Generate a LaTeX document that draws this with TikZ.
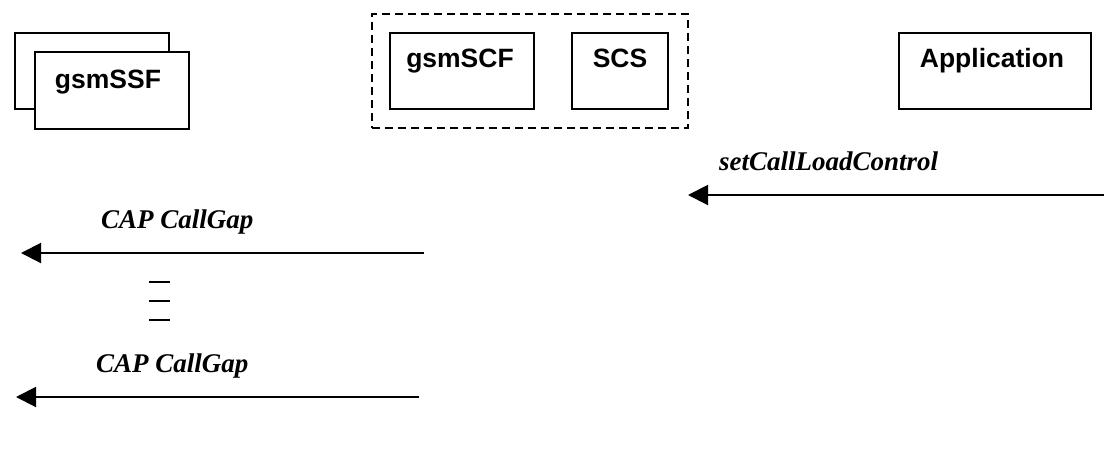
\documentclass[tikz,border=0pt]{standalone}
\usepackage{fontspec}
\setmainfont{Liberation Serif}
\newfontfamily\arialfont{Liberation Sans}
\usetikzlibrary{arrows.meta}
\tikzset{
  box/.style={draw=black, line width=2pt, fill=white, inner sep=0pt},
  boxlbl/.style={font=\arialfont\bfseries\fontsize{26.5}{30}\selectfont, inner sep=0pt, anchor=base},
  msglbl/.style={font=\bfseries\itshape\fontsize{27}{30}\selectfont, inner sep=0pt, anchor=base west},
  msg/.style={line width=2pt, -{Triangle[length=20pt,width=20pt]}},
  grp/.style={draw=black, line width=2pt, dash pattern=on 8pt off 5pt},
  gapmark/.style={line width=2pt}
}
\begin{document}
\begin{tikzpicture}[x=1pt,y=-1pt]
\useasboundingbox (0,0) rectangle (1104,475);
% gsmSSF stacked boxes
\node[box, minimum width=154pt, minimum height=76pt] (ssfback) at (92,71) {};
\node[box, minimum width=154pt, minimum height=77pt] (ssf) at (112,90.5) {};
\node[boxlbl] (ssflbl) at (108,88) {gsmSSF};
% dashed group
\node[grp, minimum width=316pt, minimum height=114pt, inner sep=0pt] (grp) at (530,71) {};
\node[box, minimum width=144pt, minimum height=76pt] (scf) at (462,71) {};
\node[boxlbl] (scflbl) at (460,67) {gsmSCF};
\node[box, minimum width=96pt, minimum height=76pt] (scs) at (620,71) {};
\node[boxlbl] (scslbl) at (620,67) {SCS};
% Application
\node[box, minimum width=192pt, minimum height=76pt] (app) at (995,71) {};
\node[boxlbl] (applbl) at (992,67) {Application};
% messages
\coordinate (m1s) at (1104,195);
\coordinate (m1e) at (688,195);
\draw[msg] (m1s) -- (m1e);
\node[msglbl] (m1lbl) at (719,170) {setCallLoadControl};
\coordinate (m2s) at (424,253);
\coordinate (m2e) at (21,253);
\draw[msg] (m2s) -- (m2e);
\node[msglbl] (m2lbl) at (101,228) {CAP CallGap};
\coordinate (g1a) at (149,282); \coordinate (g1b) at (170,282);
\coordinate (g2a) at (149,301); \coordinate (g2b) at (170,301);
\coordinate (g3a) at (149,320); \coordinate (g3b) at (170,320);
\draw[gapmark] (g1a) -- (g1b);
\draw[gapmark] (g2a) -- (g2b);
\draw[gapmark] (g3a) -- (g3b);
\coordinate (m3s) at (419,397);
\coordinate (m3e) at (16,397);
\draw[msg] (m3s) -- (m3e);
\node[msglbl] (m3lbl) at (96,372) {CAP CallGap};
\end{tikzpicture}
\end{document}
